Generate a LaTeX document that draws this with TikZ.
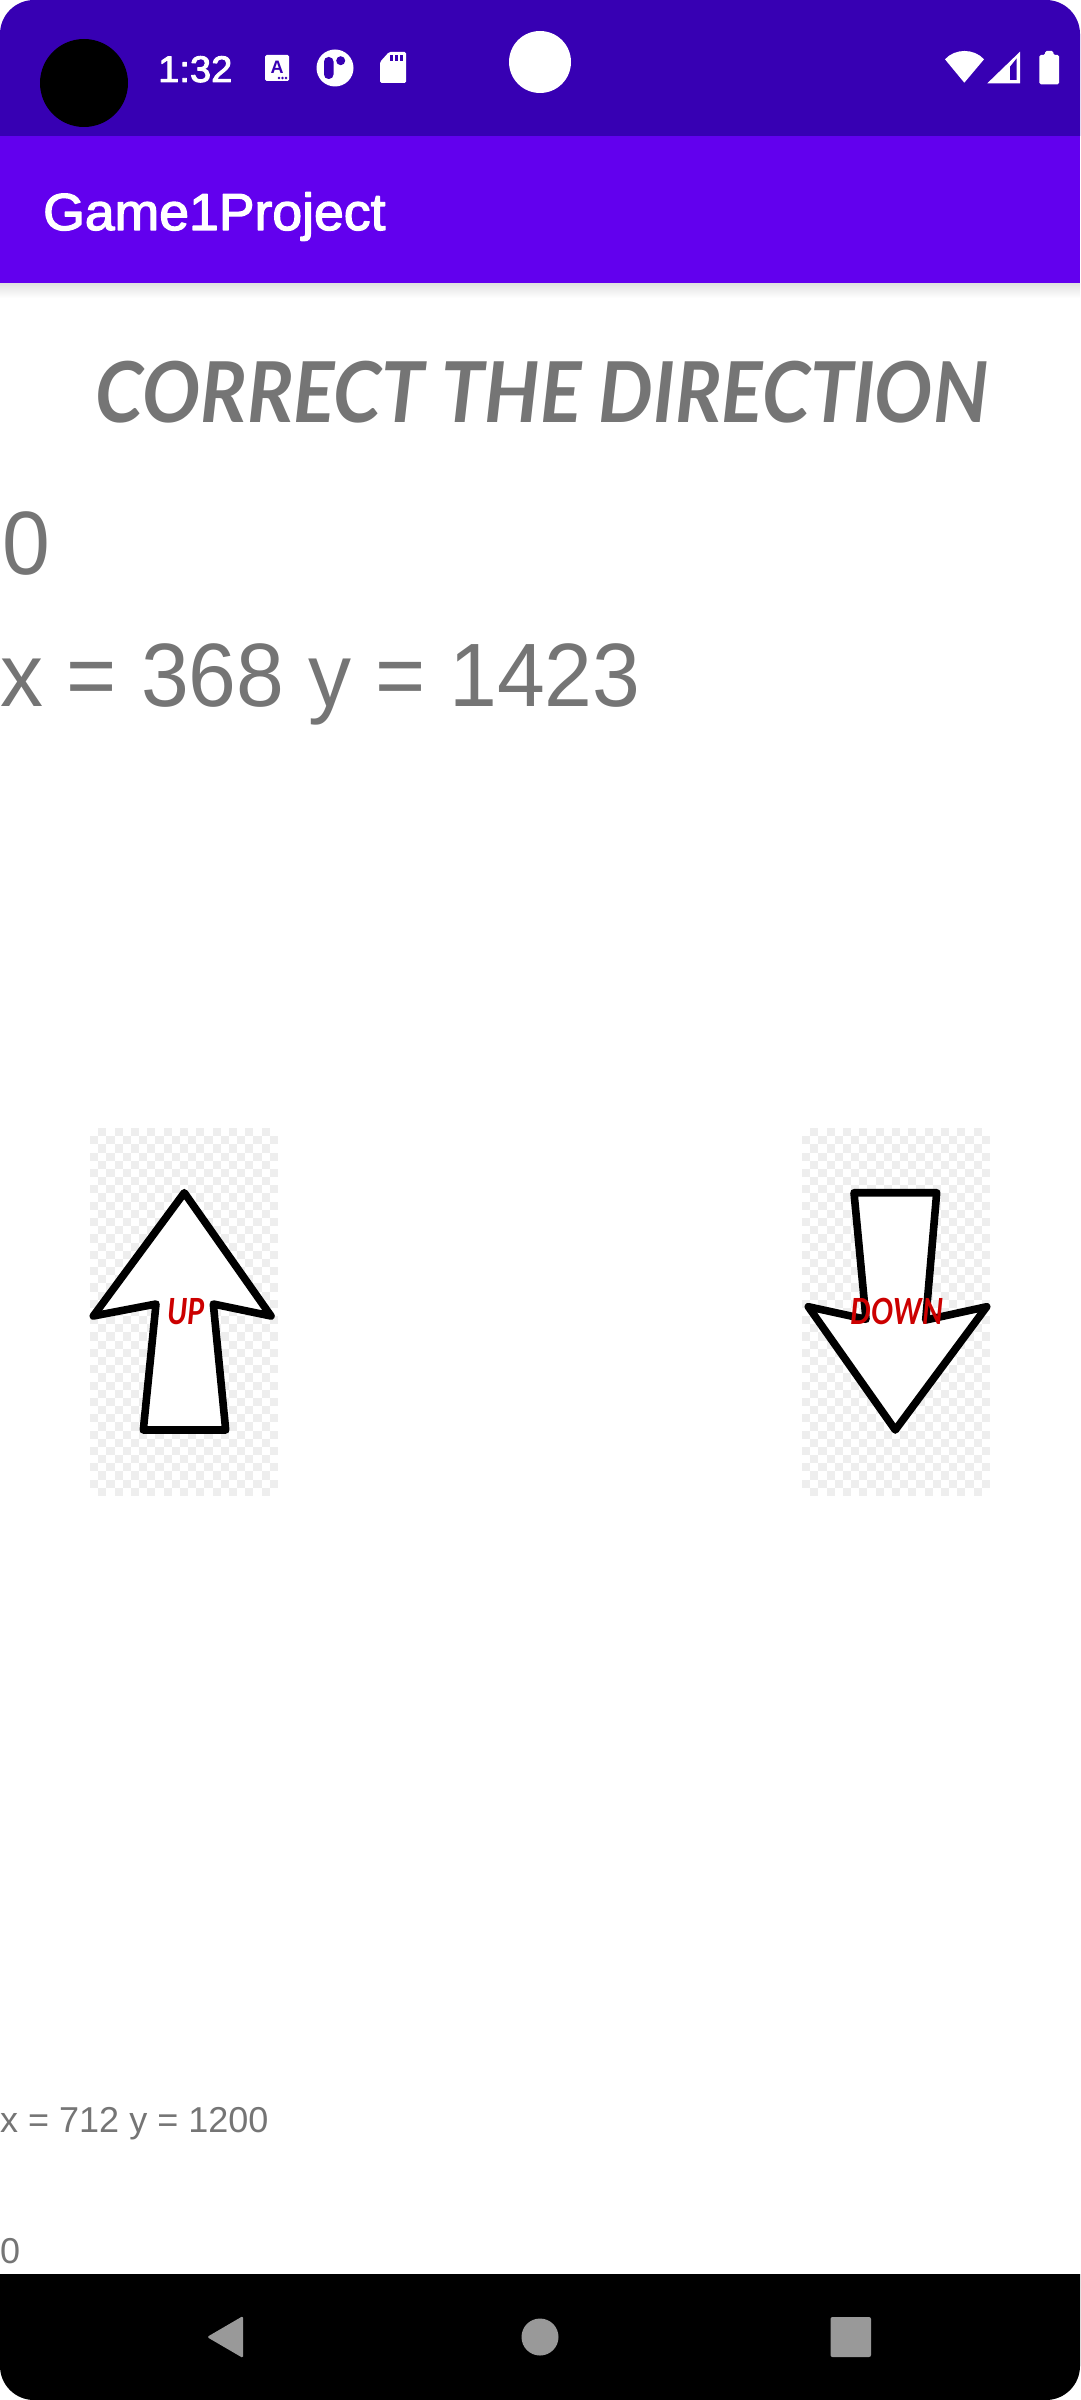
\documentclass[tikz,border=0pt]{standalone}
\usepackage{fontspec}
\setmainfont{Liberation Sans}
\newfontfamily\robotolike[FakeStretch=.955]{Liberation Sans}
\newfontfamily\appfont[FakeStretch=1.03,FakeBold=2.5]{Liberation Sans}
\newfontfamily\comicfont[FakeStretch=.92]{Lato}
\newfontfamily\wordfont[FakeStretch=.82]{Lato}
\usepackage{tikz}
\definecolor{statusbar}{HTML}{3700B3}
\definecolor{appbar}{HTML}{6200EE}
\definecolor{textgrey}{HTML}{757575}
\definecolor{navgrey}{HTML}{999999}
\definecolor{checker}{HTML}{EEEEEE}
\definecolor{wordred}{HTML}{CC0000}
\newcommand{\fontpx}[1]{\fontsize{#1}{#1}\selectfont}
\newcommand{\checkerbox}[2]{%
  \foreach \i in {0,...,22} \foreach \j in {0,...,44} {
    \pgfmathparse{int(mod(\i+\j,2))}
    \ifnum\pgfmathresult=1
      \fill[checker] (#1+\i*8.174,#2+\j*8.178) rectangle ++(8.174,8.178);
    \fi
  }%
}

\begin{document}
\begin{tikzpicture} [x=1pt, y=-1pt, line join=round,
  screentext/.style={inner sep=0pt, anchor=base west, text=textgrey},
  bigtext/.style={screentext, font=\robotolike\fontpx{90}},
  smalltext/.style={screentext, font=\fontpx{36}},
  wordtext/.style={inner sep=0pt, anchor=base, text=wordred, font=\wordfont\bfseries\itshape\fontpx{36}},
  arrowshape/.style={draw=black, fill=white, line width=7.6pt},
  navicon/.style={fill=navgrey},
  baricon/.style={fill=white}]

\useasboundingbox (0,0) rectangle (1080,2400);
\fill[white] (0,0) rectangle (1080,2400);

% bars
\fill[statusbar] (0,136) [rounded corners=34pt] -- (0,0) -- (1080,0) [sharp corners] -- (1080,136) -- cycle;
\fill[appbar] (0,136) rectangle (1080,283);
\shade[top color=black!12, bottom color=white] (0,283) rectangle (1080,298);
\fill[black] (0,2274) [rounded corners=34pt] -- (0,2400) -- (1080,2400) [sharp corners] -- (1080,2274) -- cycle;

% status bar
\node[circle, fill=black, minimum size=88pt, inner sep=0pt] (camera) at (84,83) {};
\node[circle, fill=white, minimum size=62pt, inner sep=0pt] (touch) at (540,62) {};
\node[inner sep=0pt, anchor=base west, text=white, font=\appfont\fontpx{37}] (clock) at (158,82) {1:32};

\fill[baricon, rounded corners=1.5pt] (265,55) rectangle (289,81);
\node[inner sep=0pt, anchor=base, text=statusbar, font=\bfseries\fontpx{18}] (a_icon) at (277,74) {A};
\foreach \x in {279,282.5,286} \fill[statusbar] (\x,78) circle (1.3);

\node[circle, fill=white, minimum size=37pt, inner sep=0pt] (dot_icon) at (335,68) {};
\fill[statusbar, rounded corners=4.5pt] (324,57) rectangle (333.5,79);
\fill[statusbar] (340.7,60.7) circle (4.5);

\fill[baricon, rounded corners=1.5pt] (380,83) -- (380,62) -- (389,52) -- (406,52) -- (406,83) -- cycle;
\foreach \x in {390,395,400} \fill[statusbar] (\x,54.7) rectangle ++(3,6.6);

\fill[baricon] (964.3,82.7) -- (945,59.3) .. controls (955,48.2) and (974,48.2) .. (984,59.3) -- cycle;
\fill[baricon] (987.3,83.3) -- (1020,51.7) -- (1020,83.3) -- cycle;
\fill[statusbar] (1016.7,58.3) -- (1010,66.7) -- (1010,80) -- (1016.7,80) -- cycle;
\fill[baricon, rounded corners=1.5pt] (1039.3,84.3) -- (1039.3,55) -- (1045,55) -- (1045,51) -- (1053.3,51) -- (1053.3,55) -- (1059,55) -- (1059,84.3) -- cycle;

% texts
\node[inner sep=0pt, anchor=base west, text=white, font=\appfont\fontpx{52}] (app_title) at (43,230) {Game1Project};
\node[inner sep=0pt, anchor=base, text=textgrey, font=\comicfont\bfseries\itshape\fontpx{84}] (game_title) at (542,422) {CORRECT THE DIRECTION};
\node[bigtext] (score_big) at (2,574) {0};
\node[bigtext] (touch_big) at (0,706) {x = 368 y = 1423};
\node[smalltext] (touch_small) at (0,2132) {x = 712 y = 1200};
\node[smalltext] (score_small) at (0,2263) {0};

% arrows
\checkerbox{90}{1128}
\checkerbox{802}{1128}
\draw[arrowshape] (184.3,1192.7) -- (271,1316) -- (213.3,1304) -- (225.7,1430) -- (143.3,1430) -- (156,1304) -- (93.3,1316) -- cycle;
\draw[arrowshape] (854,1192.7) -- (936.7,1192.7) -- (925.7,1320) -- (986.7,1306.7) -- (895.3,1430) -- (808.3,1306.7) -- (866,1319.3) -- cycle;
\node[wordtext] (up_word) at (186,1324) {UP};
\node[wordtext] (down_word) at (897,1324) {DOWN};

% navigation bar
\fill[navicon, rounded corners=1.5pt] (207,2337) -- (243,2316) -- (243,2358) -- cycle;
\node[circle, navicon, minimum size=37pt, inner sep=0pt] (nav_home) at (540,2337) {};
\fill[navicon, rounded corners=2pt] (830.5,2317) rectangle (871,2357);

\end{tikzpicture}
\end{document}
